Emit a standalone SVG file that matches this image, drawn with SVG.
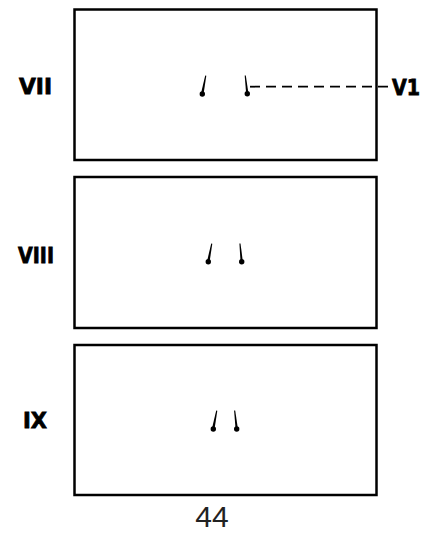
<svg xmlns="http://www.w3.org/2000/svg" width="426" height="535" viewBox="0 0 426 535">
  <style>
    .frame { fill: none; stroke: #000; stroke-width: 2.5; }
    .label { font-family: "DejaVu Sans", "Liberation Sans", sans-serif; font-weight: bold; font-size: 22px; fill: #000; stroke: #000; stroke-width: 0.8; }
    .needle { fill: #000; }
    .lead { stroke: #000; stroke-width: 1.8; stroke-dasharray: 10 6; fill: none; }
    .page { font-family: "Liberation Sans", Arial, sans-serif; font-size: 30px; fill: #222; }
  </style>
  <rect width="426" height="535" fill="#fff"/>

  <!-- stage VII -->
  <g id="stage-vii">
    <rect class="frame" x="74.5" y="9.5" width="302" height="150.5"/>
    <text class="label" x="19" y="94" textLength="33" lengthAdjust="spacingAndGlyphs">VII</text>
    <path class="needle" d="M205.2 75.5 L206.3 75.7 L203.7 93 L201.1 93 Z"/>
    <circle class="needle" cx="202.3" cy="94" r="2.7"/>
    <path class="needle" d="M244.7 75.5 L245.8 75.5 L248.4 93 L246.1 93 Z"/>
    <circle class="needle" cx="247.3" cy="93.7" r="2.7"/>
  </g>

  <!-- stage VIII -->
  <g id="stage-viii">
    <rect class="frame" x="74.5" y="177" width="302" height="151"/>
    <text class="label" x="18" y="263" textLength="36" lengthAdjust="spacingAndGlyphs">VIII</text>
    <path class="needle" d="M211.2 243.5 L212.3 243.7 L209.7 261 L207.1 261 Z"/>
    <circle class="needle" cx="208.3" cy="261.7" r="2.7"/>
    <path class="needle" d="M239.4 243.5 L240.5 243.5 L242.8 261 L240.5 261 Z"/>
    <circle class="needle" cx="241.7" cy="261.7" r="2.7"/>
  </g>

  <!-- stage IX -->
  <g id="stage-ix">
    <rect class="frame" x="74.5" y="345" width="302" height="150"/>
    <text class="label" x="23" y="428" textLength="24" lengthAdjust="spacingAndGlyphs">IX</text>
    <path class="needle" d="M216.2 410.5 L217.3 410.7 L214.7 428 L212.1 428 Z"/>
    <circle class="needle" cx="213.3" cy="429" r="2.7"/>
    <path class="needle" d="M234.1 410.5 L235.2 410.5 L237.8 428 L235.5 428 Z"/>
    <circle class="needle" cx="236.7" cy="429" r="2.7"/>
  </g>

  <!-- V1 callout -->
  <g id="callout-v1">
    <text class="label" x="392" y="95" textLength="28" lengthAdjust="spacingAndGlyphs">V1</text>
  </g>

  <g id="connectors">
    <line class="lead" x1="250" y1="86.7" x2="391" y2="86.7"/>
  </g>

  <text class="page" x="212" y="527" text-anchor="middle">44</text>
</svg>
